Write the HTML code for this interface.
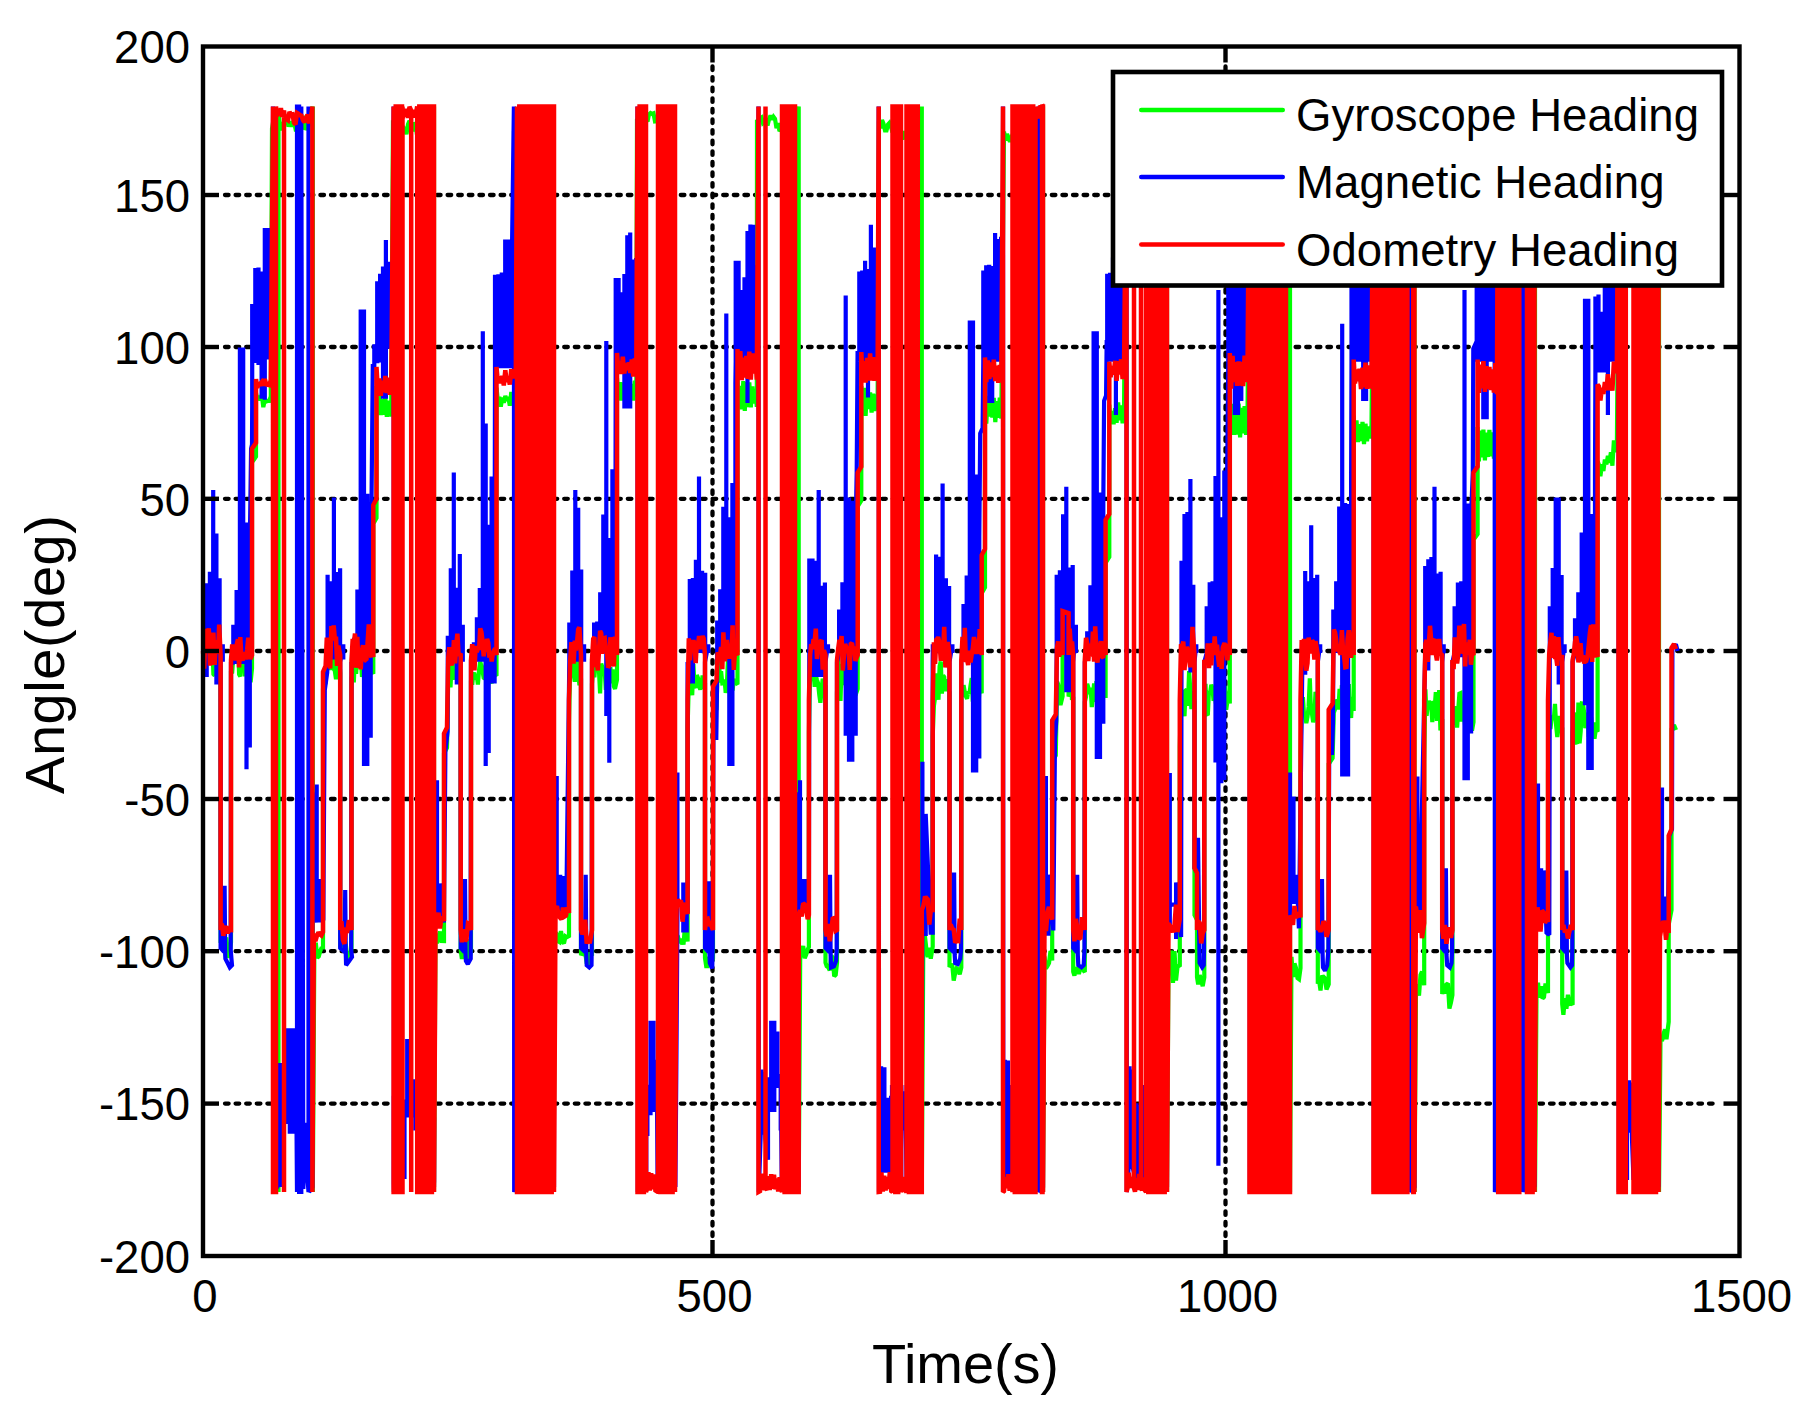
<!DOCTYPE html>
<html><head><meta charset="utf-8"><title>Heading comparison</title>
<style>
html,body{margin:0;padding:0;background:#fff;}
body{width:1817px;height:1414px;overflow:hidden;}
svg{display:block;}
text{font-family:"Liberation Sans",Arial,Helvetica,sans-serif;fill:#000;}
.tick{font-size:45.5px;}
.lab{font-size:56px;}
.leg{font-size:45.5px;}
.s{fill:none;stroke-linejoin:miter;stroke-miterlimit:2;stroke-linecap:butt;}
</style></head><body>
<svg width="1817" height="1414" viewBox="0 0 1817 1414">
<rect x="0" y="0" width="1817" height="1414" fill="#fff"/>

<g stroke="#000" stroke-width="4.3" stroke-linecap="round" stroke-dasharray="3.6 7" fill="none">
<line x1="225" y1="195" x2="1719.5" y2="195"/>
<line x1="225" y1="347" x2="1719.5" y2="347"/>
<line x1="225" y1="498.8" x2="1719.5" y2="498.8"/>
<line x1="225" y1="651" x2="1719.5" y2="651"/>
<line x1="225" y1="799" x2="1719.5" y2="799"/>
<line x1="225" y1="951.2" x2="1719.5" y2="951.2"/>
<line x1="225" y1="1103.6" x2="1719.5" y2="1103.6"/>
<line x1="712.5" y1="66.5" x2="712.5" y2="1236"/>
<line x1="1225.5" y1="66.5" x2="1225.5" y2="1236"/>
</g>
<path class="s" stroke="#00ff00" stroke-width="4.2" d="M203 661.5 204.2 659.2 205.3 672.5 206.5 661 207.7 652 208.8 664.5 210 649.6 211.1 649.6 212.3 644.9 213.4 674.2 214.6 675.4 215.7 637.2 216.9 640.1 218 659.8 219.2 662.1 220.6 666.7 220.6 941.7 221.8 942.7 223.3 947.1 224.8 941.8 226.3 937.3 227.8 956.1 229.3 956.1 231 942.4 231 672.4 232.2 672 233.3 657.3 234.5 644.2 235.7 659.9 236.8 659.6 238 638.9 239.1 674.4 240.3 676.4 241.4 651.1 242.6 670.9 243.7 651.6 244.9 676.3 246 652.6 247.2 645.4 248.3 654.5 249.5 662.1 250.6 682.2 252 668.7 252 462.4 256 456.7 256 393 257.3 399.1 258.8 396 260.3 400.2 261.8 394.8 263.3 407.2 264.8 399.8 266.3 401.4 267.8 400.8 269.3 400.8 270.8 396.5 272 128.6 273.3 120.9 274.6 126.3 275.9 122 277.2 126.6 278.5 110.5 278.5 1192 278.5 110.5 279.5 122.9 281 130.4 282.5 123.6 284 122.9 285.5 119.3 287 119.4 288.5 126.6 290 121.3 291.5 126.5 293 122.9 294.5 123.9 296 131.3 297.5 124 299 125.1 300.5 129.3 302 118.9 303.5 118.3 305 129.4 306.5 127.8 308 119.1 309.5 118 311 126.1 312.8 106.5 312.8 1192 314.3 957.4 315.8 942.6 317.3 957.7 318.8 956.4 320.3 950.9 321.8 947.3 323 948.9 323 688.9 325.6 683 326.8 650.7 327.9 659.8 329.1 660.4 330.2 669.9 331.4 658.2 332.5 655.2 333.7 669 334.8 670.6 336 679.1 337.1 653.9 338.3 643.3 340.2 672.6 340.2 947.6 341.4 945.2 342.9 950.6 344.4 939.2 345.9 945.2 347.4 959 348.9 961.4 351.5 948 351.5 678 352.7 672.4 353.8 682.3 355 654.6 356.1 673.8 357.3 654.8 358.4 667.8 359.6 663.2 360.7 656.4 361.9 675 363 675.1 364.2 676.7 365.3 664.4 366.5 679.8 367.6 666.3 368.8 678.8 369.9 672.2 371.1 671 373.3 673.8 373.3 523.8 376.5 517.9 376.5 385.9 377.8 404.7 379.3 394.8 380.8 415 382.3 399.1 383.8 414.7 385.3 396.7 386.8 416.9 388.3 400.6 389.8 416.4 391.3 405 393 120.3 394.5 130.4 396 119.7 397.5 128.5 399 126.8 400.5 123.2 402 130.4 403.5 127.5 405 129.4 406.5 134.2 408 124.3 409.5 120.8 411 125.3 412.5 131.1 414 124.1 415.5 123.8 417 135 418.5 131.4 420 128.3 421.5 135.2 423 126.9 424.5 132.1 426 125.3 427.5 128.9 429 134.7 430.5 136.5 432 136.1 434 106.5 434 1192 435.5 938 437 943.2 438.5 936.3 440 931.6 441.5 941 444 941.1 444 753.6 447 747.7 448.2 679.6 449.3 676.1 450.5 687.4 451.6 664 452.8 667.9 453.9 670.1 455.1 679.8 456.2 644.6 457.4 651.4 458.5 672.3 460.7 675.4 460.7 950.4 461.9 959 463.4 938.9 464.9 941.9 466.4 950.3 467.9 939.1 469.4 960 471 950.5 471 680.5 472.2 684.8 473.3 674.1 474.5 674.2 475.6 679.2 476.8 675.7 477.9 684.6 479.1 669.8 480.2 661.6 481.4 666.3 482.5 671.2 483.7 677.8 484.8 678.8 486 659.1 487.1 687.9 488.3 674.2 489.4 667.3 490.6 681.4 491.7 683.2 492.9 675 494 677 495.2 674.8 496.5 675.8 496.5 387.8 497.8 399.7 499.3 396.9 500.8 406.7 502.3 397.7 503.8 402.7 505.3 396 506.8 400.8 508.3 397.1 509.8 405.7 511.3 392.1 512.8 398.8 514.3 393.1 515.8 403.1 514 131.5 515.5 127.4 517 120.5 518.5 132.3 520 121.1 521.5 132.2 523 122.8 524.5 125.3 526 132.1 527.5 122.5 529 122.6 530.5 128.2 532 131.3 533.5 133.1 535 130.9 536.5 134.8 538 128 539.5 134.9 541 122 542.5 124.1 544 128.7 545.5 125.2 547 131.8 548.5 130.5 550 128.8 551.5 133.6 553 129.4 553.5 106.5 553.5 1192 555 932.5 556.5 933.7 558 941.2 559.5 942.1 561 931.1 562.5 941.4 564 943.4 565.5 936.3 567 937.2 569 936.1 569 723.1 570.2 664.7 571.4 673.2 572.5 660 573.6 673.7 574.8 681.7 575.9 673.1 577.1 661.2 578.2 671 579.4 685.3 581 678.5 581 953.5 582.2 953.8 583.7 944.9 585.2 952.9 586.7 962.9 588.2 965.2 589.7 954.2 592 953.9 592 683.9 593.2 668.8 594.4 677.3 595.5 663.7 596.6 660.7 597.8 666.5 598.9 669.2 600.1 693.3 601.2 663.7 602.4 667.3 603.5 675.2 604.7 670.9 605.8 689.8 607 678.1 608.1 675.3 609.3 677.7 610.4 667.1 611.6 683.3 612.7 669.5 613.9 686.5 615 688.7 617 679.8 617 377.8 618.3 395.1 619.8 382.1 621.3 400.5 622.8 382.4 624.3 394.9 625.8 387.6 627.3 398 628.8 387.3 630.3 395.4 631.8 384 633.3 400.6 634.8 380.6 636.3 396.3 637 118.7 638.5 122.6 640 123.8 641.5 111.4 643 117.6 644.5 121.8 646 118.4 647.5 121.5 649 114.4 650.5 113 652 113.9 653.5 113.3 655 121.4 656.5 121.2 658 122.4 659.5 116.5 661 117.4 662.5 118.1 664 128 665.5 130.7 667 130.1 668.5 118 670 117.9 671.5 131.6 673 124.7 674.5 106.5 674.5 1192 676 949.5 677.5 935.5 679 940.1 680.5 941.7 682 939 683.5 944.5 685 925.8 687.6 941.5 687.6 727.5 688.8 683.1 690 668.6 691.1 684.3 692.2 695.2 693.4 664.1 694.5 686.2 695.7 687.9 696.8 675.1 698 678 699.1 686.4 700.3 689.4 701.4 685.8 702.6 675.4 703.7 688.7 705 683.1 705 958.1 706.2 966.1 707.7 966.1 709.2 956.8 710.7 965.1 713 958.4 713 715.1 716.5 709.2 717.7 666.6 718.9 656.2 720 682.6 721.1 671.2 722.3 683.4 723.4 683.3 724.6 679.8 725.7 692.9 726.9 684.6 728 659.1 729.2 685.7 730.3 655 731.5 655.6 732.6 690.5 733.8 679.4 734.9 681.1 736.1 683.1 737.5 684.3 737.5 378.3 738.8 403.1 740.3 385.8 741.8 409.3 743.3 381 744.8 411 746.3 382.1 747.8 407 749.3 382.3 750.8 407.3 752.3 386.4 753.8 403.5 755.3 389.5 756.8 406.9 757 119.9 758.5 121.3 760 118.2 761.5 117.4 763 123.3 764.5 122.3 766 118.5 767.5 125.4 769 119.4 770.5 115.6 772 119.4 773.5 116.8 775 118.8 776.5 128.2 778 123.1 779.5 131.1 781 129.2 782.5 119.1 784 133.6 785.5 133.3 787 120.6 788.5 133.5 790 126.7 791.5 127.8 793 135.6 794.5 125 796 129.6 798.7 106.5 798.7 1192 800.2 957.2 801.7 952.1 803.2 946 804.7 958.3 806.2 954.5 807.7 949.4 808.9 947 808.9 732 810.1 671.3 811.2 680.9 812.4 669.6 813.5 671.7 814.7 686.9 815.8 675.6 817 680.1 818.1 683.2 819.3 695.1 820.4 702.7 821.6 690.4 822.7 678.6 823.9 687.7 825.5 687.6 825.5 962.6 826.7 966.1 828.2 967.2 829.7 970.4 831.2 955.8 832.7 957.4 834.2 976.4 835.7 974.8 837 963 837 693 838.2 657.7 839.4 676.7 840.5 701 841.6 664 842.8 684.7 843.9 679.8 845.1 675.2 846.2 690.2 847.4 703.1 848.5 686.9 849.7 675.5 850.8 676.8 852 679.9 853.1 697.3 854.3 685.1 855.4 695.5 857.7 688.8 857.7 506.4 861.3 500.6 861.3 386 862.6 411.3 864.1 387.9 865.6 416 867.1 387.9 868.6 409 870.1 392.4 871.6 412.7 873.1 393.6 874.6 411.1 876.1 394.5 877.6 409.2 879 121.2 880.5 128.3 882 120 883.5 123.7 885 130.4 886.5 130.4 888 124.6 889.5 122.9 891 126.5 892.5 132.4 894 127.4 895.5 124.1 897 133.4 898.5 131.6 900 137.3 901.5 138 903 138 904.5 131.2 906 137.1 907.5 130 909 130.6 910.5 132.2 912 140.7 913.5 140.5 915 131.2 916.5 133.2 918 133.7 919.5 134.1 921 134.9 921.8 106.5 921.8 1192 923.3 942.2 924.8 935.3 926.3 948.6 927.8 957.1 929.3 947.9 930.8 958.6 932.7 946.5 932.7 736.5 933.9 705.9 935.1 697.3 936.2 673.3 937.4 687.9 938.5 699.8 939.6 666.3 940.8 661.6 941.9 693.5 943.1 675.3 944.2 677 945.4 691.2 946.5 679.2 947.7 687.7 949.5 692.1 949.5 967.1 950.7 965.4 952.2 964 953.7 980.5 955.2 972.8 956.7 968.2 958.2 969.4 959.7 974.3 961.3 967.6 961.3 697.6 962.5 693.4 963.6 685.2 964.8 692.4 965.9 696.3 967.1 698.7 968.2 691.7 969.4 693.7 970.5 685.7 971.7 678 972.8 701.7 974 678.7 975.1 686 976.3 665.2 977.4 677.4 978.6 702.6 979.7 687.1 981.7 693.3 981.7 593.3 985 587.4 985 395.8 986.3 423.7 987.8 395.9 989.3 416.6 990.8 397.3 992.3 417.6 993.8 397.9 995.3 422.2 996.8 401.2 998.3 417.9 999.8 397.6 1001.3 418.5 1004 131.6 1005.5 140.5 1007 134 1008.5 137.7 1010 141.9 1011.5 137 1013 133.9 1014.5 143.4 1016 144 1017.5 135.6 1019 138.8 1020.5 145.1 1022 138.1 1023.5 134.4 1025 132 1026.5 145.6 1028 143.5 1029.5 137.5 1031 139.8 1032.5 139.7 1034 136.3 1035.5 147.2 1037 142.3 1038.5 136.2 1040 133 1041.5 140 1043 106.5 1043 1192 1044.5 956.6 1046 968.2 1047.5 966 1049 963.1 1050.5 951.1 1052.2 960.4 1052.2 761.3 1055.8 755.4 1057 681.5 1058.2 684.4 1059.3 691.6 1060.5 705 1062.6 696.3 1062.6 652.3 1068.6 654.5 1068.6 696.5 1069.7 693.3 1070.8 677.9 1072 700 1073.2 696.7 1073.2 971.7 1074.4 975.7 1075.9 967.3 1077.4 969.6 1078.9 973.9 1080.4 967.7 1081.9 968.8 1083.4 970.3 1084.8 972.1 1084.8 702.1 1086 696.8 1087.2 683.8 1088.3 687.5 1089.5 694 1090.6 687.6 1091.8 707 1092.9 697.4 1094.1 683.5 1095.2 701.9 1096.4 681.1 1097.5 709.4 1098.7 680.7 1099.8 690.6 1101 696.8 1102.1 701.8 1103.3 688.1 1104.4 679.3 1105.6 697.9 1105.6 562.9 1109.3 557 1109.3 404.7 1110.6 423.4 1112.1 411 1113.6 424.3 1115.1 408.2 1116.6 422.8 1118.1 402.5 1119.6 420.4 1121.1 405.5 1122.6 423.4 1124.1 403.6 1126 137.7 1127.5 139.8 1129 144.1 1130.5 144.8 1132 141.8 1133.5 135.1 1135 144.4 1136.5 146.6 1138 141.4 1139.5 138.6 1141 141 1142.5 135.8 1144 144.5 1145.5 148.8 1147 141.8 1148.5 145 1150 146.9 1151.5 137.5 1153 148.9 1154.5 144.3 1156 138 1157.5 136.4 1159 139 1160.5 144.1 1162 146.1 1163.5 140.7 1165 149.8 1167 106.5 1167 1192 1168.5 959.4 1170 963.4 1171.5 950.6 1173 982.9 1174.5 951.2 1176 980.4 1177.5 966.8 1179.8 965.3 1179.8 746.3 1181 698 1182.2 689.8 1183.3 710.2 1184.5 716.2 1185.6 690.6 1186.8 689.3 1187.9 705.9 1189.1 671 1190.2 687.8 1191.4 709.1 1192.5 691.5 1194.5 702 1194.5 915 1197 920.1 1197 977.1 1198.2 984.3 1199.7 975.1 1201.2 980.7 1202.7 986.2 1204.3 977.4 1204.3 707.4 1205.5 683.9 1206.7 714.2 1207.8 715.2 1209 691 1210.1 693 1211.3 684.8 1212.4 687.9 1213.6 700.7 1214.7 695.4 1215.9 703.3 1217 705.1 1218.2 711.9 1219.3 708.1 1220.5 696.3 1221.6 709.6 1222.8 699 1223.9 709.7 1225.1 685.9 1226.2 709.7 1227.4 701.2 1228.5 693.1 1229.8 703.6 1229.8 401.6 1231.1 431.3 1232.6 403.9 1234.1 434.9 1235.6 407.4 1237.1 434.6 1238.6 403.5 1240.1 437.4 1241.6 407.9 1243.1 433.4 1244.6 406.1 1246.1 435 1247.6 405.6 1250 136 1251.5 148.9 1253 150 1254.5 145.7 1256 148.9 1257.5 142.5 1259 148.5 1260.5 139.9 1262 148 1263.5 145.6 1265 150.9 1266.5 139 1268 149.7 1269.5 139.9 1271 146.3 1272.5 152.7 1274 138.7 1275.5 142.6 1277 143.6 1278.5 144.3 1280 140.6 1281.5 153.3 1283 152.3 1284.5 146.3 1286 145.9 1287.5 149.6 1289 141.7 1290 106.5 1290 1192 1291.5 956.8 1293 976.9 1294.5 963.4 1296 967.9 1297.5 978 1299 979.1 1300.5 968.2 1300.5 752.7 1301.7 702 1302.9 697.1 1304 714 1305.2 712.4 1306.3 723.2 1307.5 717 1308.6 706.9 1309.8 678.3 1310.9 709.6 1312.1 714.6 1313.2 722.3 1314.4 715.8 1315.5 691.8 1317.8 708.7 1317.8 983.7 1319 979.8 1320.5 990.4 1322 977.1 1323.5 976.8 1325 978.3 1326.5 989.5 1328.7 984.4 1328.7 764 1332.6 758.2 1333.8 712.8 1335 709.3 1336.1 707.3 1337.3 699.3 1338.4 709.6 1339.6 688.9 1340.7 703.4 1341.9 685.2 1343 699.2 1344.2 682.2 1345.3 712.5 1346.5 699.3 1347.6 696.7 1348.8 684.2 1349.9 712.7 1351.1 717.8 1352.2 696.8 1353.7 710.9 1353.7 415.5 1355 441.8 1356.5 420.3 1358 442.1 1359.5 424.3 1361 441 1362.5 422 1364 444.1 1365.5 423.8 1367 441.4 1368.5 426.4 1370 438.4 1371.5 425 1374 142.5 1375.5 149.3 1377 144 1378.5 147.3 1380 152.5 1381.5 152.9 1383 153.2 1384.5 145.1 1386 149.1 1387.5 145.3 1389 151 1390.5 150 1392 143.2 1393.5 151.9 1395 153.9 1396.5 152 1398 156.7 1399.5 146.5 1401 146.3 1402.5 144.5 1404 151.9 1405.5 151.2 1407 151.6 1408.5 149.1 1410 157.4 1411.5 146.7 1413 159.5 1414.5 106.5 1414.5 1192 1416 987 1417.5 986.2 1419 995.7 1420.5 974.9 1422 971.5 1424.2 985.2 1424.2 762.2 1425.4 689.4 1426.6 715.8 1427.7 705.9 1428.9 701.1 1430 703.6 1431.2 703.3 1432.3 722.2 1433.5 700.8 1434.6 709.4 1435.8 692.2 1436.9 720.8 1438.1 703.6 1439.2 690.1 1440.4 730.5 1442.2 719 1442.2 994 1443.4 989.8 1444.9 993.3 1446.4 984.4 1447.9 983.4 1449.4 1008.6 1450.9 1002.7 1452.4 995 1452.4 725 1453.6 721.6 1454.8 708.3 1455.9 708.1 1457.1 727.5 1458.2 711 1459.4 693.7 1460.5 693.2 1461.7 721.3 1462.8 718.5 1464 715.1 1465.1 725.8 1466.3 724.2 1467.4 712.2 1468.6 732 1469.7 708.7 1470.9 711.4 1472 730.7 1473.5 722.1 1473.5 539.7 1477.6 534.1 1477.6 427.1 1478.9 461.4 1480.4 430.6 1481.9 457.3 1483.4 429.7 1484.9 460.4 1486.4 432.6 1487.9 457 1489.4 429.8 1490.9 456.4 1492.4 432.3 1493.9 458.6 1495.4 438.5 1496.9 461.7 1497 154 1498.5 155.7 1500 153 1501.5 165 1503 156.7 1504.5 163.1 1506 162.8 1507.5 165.9 1509 152.9 1510.5 157.8 1512 159 1513.5 154.8 1515 167.1 1516.5 159.1 1518 166.1 1519.5 162.7 1521 156 1522.5 161.4 1524 159.4 1525.5 156.8 1527 158.7 1528.5 165.7 1530 157.6 1531.5 162.1 1533 164.1 1535 106.5 1535 1192 1536.5 993.3 1538 982.8 1539.5 997.7 1541 986.3 1542.5 998.5 1544 997 1545.5 983.6 1548 993 1548 773 1549.2 714.8 1550.4 729.1 1551.5 720.1 1552.7 715.7 1553.8 719.1 1555 703.8 1556.1 725.4 1557.3 737 1558.4 728.5 1559.6 715.9 1560.7 728.6 1562.2 729 1562.2 1004 1563.4 1014.7 1564.9 998.3 1566.4 1008.8 1567.9 994.8 1569.4 1003.7 1570.9 1002.9 1572.6 1004.8 1572.6 734.8 1573.8 712.5 1575 720.1 1576.1 741.8 1577.3 743.8 1578.4 702.6 1579.6 743.4 1580.7 731 1581.9 703.4 1583 703.6 1584.2 713.1 1585.3 728.1 1586.5 720.9 1587.6 712.5 1588.8 736.9 1589.9 719.4 1591.1 717.3 1592.2 729.4 1593.4 722.4 1594.5 738.8 1595.7 730 1597.6 731.6 1597.6 461.2 1598.9 464.7 1600.4 476.3 1601.9 464.3 1603.4 471 1604.9 459.5 1606.4 464.5 1607.9 455.9 1609.4 462.7 1610.9 452.2 1612.4 465.7 1613.9 440.3 1615.4 452 1616.9 443.9 1619 162.2 1620.5 163.3 1622 164.3 1623.5 171.5 1625 165.2 1626.5 162.1 1628 170.7 1629.5 168.9 1631 167 1632.5 171.2 1634 174 1635.5 172.9 1637 174.4 1638.5 173.9 1640 178.4 1641.5 180.9 1643 171.8 1644.5 172.4 1646 180.9 1647.5 172.7 1649 179.2 1650.5 179.3 1652 179.6 1653.5 184.2 1655 182.5 1656.5 173 1658 180.3 1659 106.5 1659 1192 1660.5 1038.1 1662 1041.2 1663.5 1033.9 1665 1029.4 1666.5 1039.2 1668.7 1021.8 1668.7 924.5 1671.5 910 1671.5 729 1674 725 1676 730"/>
<path class="s" stroke="#0000ff" stroke-width="4.2" d="M203.5 661.7 203.5 618.3 203.5 640 206.7 640 206.7 677 206.7 583.3 206.7 622.5 209.9 622.5 209.9 661.7 209.9 571.8 209.9 616.7 213.2 616.7 213.2 661.7 213.2 490 213.2 597.7 216.4 597.7 216.4 684.6 216.4 533.6 216.4 620 219.6 620 219.6 661.7 219.6 578.3 219.6 653 222.8 653 222.8 661.7 222.8 644.3 220.6 662 220.6 948 224 952 224.6 885.7 225.2 955 225.4 958.7 227.6 963 229.8 967.4 232 965.2 230.7 950 231 662 233.3 663.9 233.3 624.8 233.3 644.3 236.6 644.3 236.6 663.9 236.6 590 236.6 627 239.9 627 239.9 663.9 239.9 347.6 239.9 505.8 243.2 505.8 243.2 663.9 243.2 347.6 243.2 593.2 246.5 593.2 246.5 769.3 246.5 522.6 246.5 645.4 249.8 645.4 249.8 747.6 249.8 543.3 251.1 448.7 252 444.3 252.2 405.2 252.2 304.1 252.2 333.6 255.3 333.6 255.3 363 255.3 267.9 255.3 315.5 258.5 315.5 258.5 365 258.5 267.4 258.5 318.2 261.6 318.2 261.6 398.8 261.6 271.4 261.6 335.1 264.8 335.1 264.8 399.7 264.8 228 264.8 293.8 267.9 293.8 267.9 359.6 267.9 228 267.9 315 271.1 315 271.1 359.6 271.1 270.4 273 270.4 273 106.5 273.3 1192 277.2 1187 277.2 1063 277.2 1125 280.3 1125 280.3 1187 280.3 1063 280.3 1121.7 283.5 1121.7 283.5 1123.9 283.5 1119.6 283.5 1121.7 286.6 1121.7 286.6 1123.9 286.6 1028.3 286.6 1076.1 289.8 1076.1 289.8 1133.7 289.8 1028.3 289.8 1081 292.9 1081 292.9 1133.7 292.9 1028.3 292.9 1101.6 296.1 1101.6 296.1 1133.7 296.1 1069.6 297 1192 297 106.5 299.1 106.5 299.1 1192 301.3 1192 301.3 106.5 303.3 1189 304.3 1165.2 305.4 1122.8 306.3 1160.9 308.5 1192 308.5 106.5 309.1 1192 312.4 1187 312.4 792.2 316.7 922.6 316.7 784.6 316.7 900.9 319.3 900.9 319.3 922.6 319.3 879.1 323.3 920.4 324.8 690 327.2 672.6 327.6 659.6 327.6 574.8 327.6 620.4 330.7 620.4 330.7 659.6 330.7 581.3 330.7 620.4 333.9 620.4 333.9 659.6 333.9 497.6 333.9 615.8 337 615.8 337 659.6 337 572 337 615.8 340.1 615.8 340.1 659.6 340.1 568.3 340.1 652 343.3 652 343.3 659.6 343.3 644.3 340.2 662 340.2 948 344.6 952 345.2 890 345.8 955 346.1 965.2 349.3 960.9 352 957 351.2 950 351.5 662 354.1 666.1 354.1 637.8 354.1 652 357.4 652 357.4 666.1 357.4 589.6 357.4 627.9 360.7 627.9 360.7 666.1 360.7 309.6 360.7 487.8 364 487.8 364 766.1 364 309.6 364 629.9 367.3 629.9 367.3 766.1 367.3 493.7 367.3 643.8 370.7 643.8 370.7 737.8 370.7 549.8 371.5 505.2 372.8 366.1 374.3 366.1 374.3 344.3 374.3 353.8 377.2 353.8 377.2 363.2 377.2 281.3 377.2 321.9 380.1 321.9 380.1 362.6 380.1 273.7 380.1 318.2 383 318.2 383 398.7 383 266.4 383 332.6 385.9 332.6 385.9 398.7 385.9 240 385.9 305.2 388.8 305.2 388.8 348.7 388.8 261.7 388.8 306.3 391.7 306.3 391.7 348.7 391.7 263.9 393.6 263.9 393.6 106.5 393.9 1192 393.7 1182.6 393.7 1095.7 393.7 1139.3 396.4 1139.3 396.4 1181.7 396.4 1096.9 396.4 1139.5 399.1 1139.5 399.1 1180.7 399.1 1098.2 399.1 1139.6 401.8 1139.6 401.8 1179.8 401.8 1099.4 401.8 1139.2 404.5 1139.2 404.5 1178.9 404.5 1099.5 404.5 1108.5 407.2 1108.5 407.2 1117.4 407.2 1039.1 407.2 1098.4 409.9 1098.4 409.9 1117.4 409.9 1079.3 409.9 1098.4 412.6 1098.4 412.6 1117.4 412.6 1079.3 412.6 1098.4 415.3 1098.4 415.3 1130.4 415.3 1079.3 415.3 1123.9 418 1123.9 418 1182.6 418 1117.4 418 1150 420.7 1150 420.7 1182.6 420.7 1117.4 420.7 1150 423.3 1150 423.3 1182.6 423.3 1117.4 423.3 1150 426 1150 426 1182.6 426 1117.4 426 1150 428.7 1150 428.7 1182.6 428.7 1117.4 428.7 1150 431.4 1150 431.4 1182.6 431.4 1117.4 431.4 1150 434.1 1150 434.1 1182.6 434.1 1117.4 434 1187 434 792.2 437 920.4 437 780.2 437 902 440 902 440 920.4 440 883.5 443.9 922.6 445.4 750.9 447.6 731.3 447.8 661.7 447.8 635.7 447.8 648.7 450.8 648.7 450.8 661.7 450.8 568.3 450.8 615 453.8 615 453.8 661.7 453.8 472.6 453.8 624.8 456.8 624.8 456.8 684.6 456.8 587.8 456.8 624.8 459.8 624.8 459.8 661.7 459.8 554.1 459.8 643.3 462.8 643.3 462.8 661.7 462.8 624.8 460.7 662 460.7 948 464.4 952 465 879.1 465.6 955 465.9 960.9 467.8 964.1 470.7 958.7 470.7 950 471 662 473.9 661.7 473.9 642.2 473.9 652 476.9 652 476.9 661.7 476.9 617.2 476.9 639.5 479.8 639.5 479.8 661.7 479.8 588 479.8 624.9 482.8 624.9 482.8 661.7 482.8 331.3 482.8 542.5 485.7 542.5 485.7 766.1 485.7 423.4 485.7 638.9 488.7 638.9 488.7 753 488.7 524.8 488.7 604.1 491.6 604.1 491.6 683.5 491.6 476.5 491.6 634.6 494.6 634.6 494.6 683.5 494.6 585.7 495 368.3 495 274.8 495 321.5 498.4 321.5 498.4 368.3 498.4 274.3 498.4 321.3 501.8 321.3 501.8 368.3 501.8 272.4 501.8 320.3 505.2 320.3 505.2 368.3 505.2 239.6 505.2 303.9 508.6 303.9 508.6 368.3 508.6 239.6 508.6 309 512 309 512 368.3 512 249.8 513.9 106.5 514.2 1192 516.7 1180 516.7 1085 516.7 1132.5 520.6 1132.5 520.6 1180 520.6 1085 520.6 1132.5 524.5 1132.5 524.5 1180 524.5 1085 524.5 1132.5 528.3 1132.5 528.3 1180 528.3 1085 528.3 1132.5 532.2 1132.5 532.2 1180 532.2 1085 532.2 1132.5 536.1 1132.5 536.1 1180 536.1 1085 536.1 1132.5 539.9 1132.5 539.9 1180 539.9 1085 539.9 1132.5 543.8 1132.5 543.8 1180 543.8 1085 543.8 1132.5 547.7 1132.5 547.7 1180 547.7 1085 547.7 1132.5 551.5 1132.5 551.5 1180 551.5 1085 554 1187 554 792.2 556.7 911.7 556.7 775.9 556.7 893.3 560.2 893.3 560.2 911.7 560.2 874.8 560.2 893.8 563.5 893.8 563.5 911.7 563.5 875.9 563.5 893.8 566.7 893.8 566.7 911.7 566.7 874.8 569.3 661.7 569.3 622.6 569.3 642.2 572.3 642.2 572.3 661.7 572.3 570.4 572.3 616.1 575.3 616.1 575.3 661.7 575.3 490 575.3 584.7 578.2 584.7 578.2 661.7 578.2 507.7 578.2 615.7 581.2 615.7 581.2 661.7 581.2 569.6 581.2 653 584.1 653 584.1 661.7 584.1 644.3 581 662 581 948 585.1 952 585.7 874.8 586.3 955 586.7 965.2 589.3 967.4 591.5 965.2 591.7 950 592 662 594.1 653 594.1 622.6 594.1 637.8 597.2 637.8 597.2 653 597.2 621.5 597.2 637.3 600.2 637.3 600.2 653 600.2 592.2 600.2 622.6 603.3 622.6 603.3 653 603.3 514.5 603.3 583.8 606.3 583.8 606.3 716.1 606.3 341.1 606.3 627.1 609.3 627.1 609.3 762.8 609.3 538.1 609.3 595.6 612.4 595.6 612.4 653 612.4 469.3 612.4 628 615.4 628 615.4 653 615.4 603 615.7 361.7 615.7 278 615.7 319.9 618.6 319.9 618.6 361.7 618.6 278 618.6 327 621.5 327 621.5 361.7 621.5 292.2 621.5 327 624.4 327 624.4 408.5 624.4 273.9 624.4 341.2 627.3 341.2 627.3 408.5 627.3 235.3 627.3 321.9 630.2 321.9 630.2 408.5 630.2 232.4 630.2 310.7 633.2 310.7 633.2 361.7 633.2 259.6 633.2 310.9 636.1 310.9 636.1 361.7 636.1 260 637.5 260 637.5 106.5 637.8 1192 638 1180 638 1085 638 1132.5 640.8 1132.5 640.8 1180 640.8 1085 640.8 1132.5 643.6 1132.5 643.6 1180 643.6 1085 643.6 1132.5 646.3 1132.5 646.3 1180 646.3 1085 647.4 1135.9 647.4 1084.8 647.4 1100 650.5 1100 650.5 1115.2 650.5 1020.7 650.5 1066.3 653.6 1066.3 653.6 1111.9 653.6 1020.7 653.6 1082.1 656.7 1082.1 656.7 1104.3 656.7 1059.8 657.6 1180 657.6 1085 657.6 1132.5 661 1132.5 661 1180 661 1085 661 1132.5 664.4 1132.5 664.4 1180 664.4 1085 664.4 1132.5 667.8 1132.5 667.8 1180 667.8 1085 667.8 1132.5 671.2 1132.5 671.2 1180 671.2 1085 671.2 1132.5 674.6 1132.5 674.6 1180 674.6 1085 675.4 1187 676.5 1047.8 677.4 922.6 677.4 772.6 677.4 902.5 683.3 902.5 683.3 932.6 683.3 882.4 683.3 916.3 686.7 916.3 686.7 932.6 686.7 900 687.6 913 687.6 662 689.8 683.5 689.8 579.1 689.8 631.3 692.9 631.3 692.9 683.5 692.9 578.1 692.9 615.6 695.9 615.6 695.9 653 695.9 559.7 695.9 606.4 699 606.4 699 653 699 476.5 699 611.9 702.1 611.9 702.1 653 702.1 570.8 702.1 612.9 705.2 612.9 705.2 653 705.2 572.8 705.2 648.7 708.3 648.7 708.3 653 708.3 644.3 705 662 705 948 708.3 952 708.9 881.3 709.5 955 709.8 963 712.2 968.5 712.7 950 713.4 737.8 716.3 737.8 717 686.7 717.2 653 717.2 620.4 717.2 636.7 720.2 636.7 720.2 653 720.2 589.2 720.2 621.1 723.3 621.1 723.3 653 723.3 506.7 723.3 579.9 726.3 579.9 726.3 653 726.3 313.5 726.3 585.1 729.3 585.1 729.3 766.1 729.3 517.2 729.3 641.6 732.4 641.6 732.4 766.1 732.4 483 732.4 568 735.4 568 735.4 653 735.4 383.5 735.7 361.7 735.7 260.7 735.7 311.2 738.6 311.2 738.6 361.7 738.6 260.7 738.6 325.9 741.6 325.9 741.6 361.7 741.6 290 741.6 325.9 744.5 325.9 744.5 361.7 744.5 277.3 744.5 319.5 747.5 319.5 747.5 403 747.5 231.1 747.5 296.4 750.4 296.4 750.4 361.7 750.4 224.4 750.4 293.3 753.4 293.3 753.4 361.7 753.4 224.8 753.4 314.5 756.3 314.5 756.3 361.7 756.3 267.2 758.5 267.2 758.5 106.5 758.8 1192 760.7 1134.8 761.5 1069.6 762.4 1134.8 763.3 1071.7 765.4 1139.1 768 1159.8 768 1077.2 768 1094.6 771.2 1094.6 771.2 1112 771.2 1020.7 771.2 1066.3 774.3 1066.3 774.3 1112 774.3 1020.7 774.3 1059.8 777.5 1059.8 777.5 1088 777.5 1031.6 777.5 1081 780.7 1081 780.7 1130.4 780.7 1073.9 781.7 1180 781.7 1085 781.7 1132.5 785.3 1132.5 785.3 1180 785.3 1085 785.3 1132.5 788.8 1132.5 788.8 1180 788.8 1085 788.8 1132.5 792.3 1132.5 792.3 1180 792.3 1085 792.3 1132.5 795.9 1132.5 795.9 1180 795.9 1085 798.7 1187 798.7 792.2 800 905.2 800 780.2 800 892.2 803 892.2 803 905.2 803 879.1 803 892.2 805.4 892.2 805.4 905.2 805.4 879.1 808.9 907.4 809.3 653 809.3 558.5 809.3 605.8 812.5 605.8 812.5 677 812.5 558.6 812.5 618.9 815.6 618.9 815.6 677 815.6 560.8 815.6 618.9 818.7 618.9 818.7 677 818.7 490 818.7 631.3 821.8 631.3 821.8 677 821.8 585.7 821.8 619.3 824.9 619.3 824.9 653 824.9 582.4 824.9 648.7 828 648.7 828 653 828 644.3 825.5 662 825.5 948 829.4 952 830 874.8 830.6 955 831.1 967.4 833.9 966.3 836.1 960.9 836.7 950 837 662 839.1 653 839.1 609.6 839.1 631.3 842.4 631.3 842.4 653 842.4 582.2 842.4 617.6 845.7 617.6 845.7 735.7 845.7 295.4 845.7 616.6 849 616.6 849 761.7 849 497.6 849 631.3 852.3 631.3 852.3 761.7 852.3 500.8 852.3 630.2 855.7 630.2 855.7 735.7 855.7 524.8 856.7 472.6 857.6 350.9 859.3 361.7 859.3 271.5 859.3 316.6 862.2 316.6 862.2 361.7 862.2 270.4 862.2 316.1 865.1 316.1 865.1 361.7 865.1 260.7 865.1 315.4 868 315.4 868 397.6 868 269.1 868 315.4 870.9 315.4 870.9 361.7 870.9 224.8 870.9 304.7 873.8 304.7 873.8 361.7 873.8 247.6 873.8 305.8 876.7 305.8 876.7 361.7 876.7 249.8 878.7 249.8 878.7 106.5 879 1192 881.1 1172.8 881.1 1066.3 881.1 1120 884.4 1120 884.4 1172.8 884.4 1067.2 884.4 1135.3 887.8 1135.3 887.8 1172.8 887.8 1097.7 887.8 1135.3 891.1 1135.3 891.1 1172.8 891.1 1095.7 892 1180 892 1085 892 1132.5 895.1 1132.5 895.1 1180 895.1 1085 895.1 1132.5 898.2 1132.5 898.2 1180 898.2 1085 898.2 1132.5 901.3 1132.5 901.3 1180 901.3 1085 902.4 1130.4 903.3 1091.3 904.1 1130.4 904.8 1092.4 905.9 1139.1 906.7 1180 906.7 1085 906.7 1132.5 909.9 1132.5 909.9 1180 909.9 1085 909.9 1132.5 913 1132.5 913 1180 913 1085 913 1132.5 916.2 1132.5 916.2 1180 916.2 1085 916.2 1132.5 919.3 1132.5 919.3 1180 919.3 1085 921.5 1182 922.4 900.9 922.4 761.7 922.4 857.4 925.7 857.4 925.7 935.9 925.7 813.9 930.7 932.6 932.7 932.6 932.7 662 932.8 653 932.8 644.3 932.8 648.7 936.1 648.7 936.1 653 936.1 554.4 936.1 604.9 939.3 604.9 939.3 653 939.3 556.7 939.3 604.9 942.6 604.9 942.6 653 942.6 483.5 942.6 615.7 945.9 615.7 945.9 653 945.9 578.3 945.9 619.4 949.1 619.4 949.1 653 949.1 585.9 949.1 648.7 952.4 648.7 952.4 653 952.4 644.3 949.5 662 949.5 948 953.5 952 954.1 872.6 954.7 955 955.2 963 957.8 964.1 960.2 958.7 961 950 961.3 662 963.5 653 963.5 604.1 963.5 628.6 966.7 628.6 966.7 653 966.7 575.6 966.7 614.3 969.8 614.3 969.8 653 969.8 320.4 969.8 486.7 973 486.7 973 772.6 973 320.4 973 623.6 976.2 623.6 976.2 772.6 976.2 474.5 976.2 647.6 979.3 647.6 979.3 758.5 979.3 536.7 980.2 433.5 982.6 428 983.3 361.7 983.3 270.4 983.3 316.1 986.2 316.1 986.2 361.7 986.2 265.2 986.2 313.5 989.2 313.5 989.2 403 989.2 264.7 989.2 334.5 992.2 334.5 992.2 403 992.2 266 992.2 313.9 995.1 313.9 995.1 361.7 995.1 232.9 995.1 300.3 998.1 300.3 998.1 361.7 998.1 238.9 998.1 300.3 1001.1 300.3 1001.1 361.7 1001.1 238.9 1003 238.9 1003 106.5 1003.3 1192 1005 1171.7 1005 1059.8 1005 1116.2 1007.9 1116.2 1007.9 1176.1 1007.9 1060.6 1007.9 1144 1010.9 1144 1010.9 1180.4 1010.9 1112 1012 1180 1012 1085 1012 1132.5 1015.9 1132.5 1015.9 1180 1015.9 1085 1015.9 1132.5 1019.9 1132.5 1019.9 1180 1019.9 1085 1019.9 1132.5 1023.9 1132.5 1023.9 1180 1023.9 1085 1023.9 1132.5 1027.9 1132.5 1027.9 1180 1027.9 1085 1027.9 1132.5 1031.9 1132.5 1031.9 1180 1031.9 1085 1031.9 1132.5 1035.9 1132.5 1035.9 1180 1035.9 1085 1038.5 1192 1038.5 106.5 1039.1 1192 1043 1187 1043 792.2 1045.9 935.7 1045.9 775.9 1045.9 905.2 1048.5 905.2 1048.5 935.7 1048.5 874.8 1053.3 930.4 1055 738.9 1056.3 720.4 1056.7 653 1056.7 574.8 1056.7 613.9 1059.9 613.9 1059.9 653 1059.9 570.2 1059.9 611.6 1063.1 611.6 1063.1 653 1063.1 514.3 1063.1 583.7 1066.3 583.7 1066.3 692.2 1066.3 486.7 1066.3 629.9 1069.5 629.9 1069.5 692.2 1069.5 567.6 1069.5 610.3 1072.7 610.3 1072.7 653 1072.7 565 1072.7 638.9 1075.9 638.9 1075.9 653 1075.9 624.8 1073.2 662 1073.2 948 1076.6 952 1077.2 874.8 1077.8 955 1078.3 965.2 1081.5 967.4 1083.7 965.2 1084.5 950 1084.8 662 1087.2 653 1087.2 631.3 1087.2 642.2 1090.4 642.2 1090.4 653 1090.4 585.3 1090.4 619.2 1093.6 619.2 1093.6 653 1093.6 331.3 1093.6 492.2 1096.8 492.2 1096.8 759.1 1096.8 331.3 1096.8 625.9 1100 625.9 1100 759.1 1100 492.6 1100 613.9 1103.3 613.9 1103.3 723.7 1103.3 504.1 1104.1 400.9 1106.1 395.4 1106.7 340 1107.2 361.7 1107.2 273.7 1107.2 317.7 1110.1 317.7 1110.1 361.7 1110.1 272.8 1110.1 317.3 1113 317.3 1113 361.7 1113 257.4 1113 309.6 1115.9 309.6 1115.9 415 1115.9 257.4 1115.9 309.6 1118.8 309.6 1118.8 361.7 1118.8 229.1 1118.8 309.8 1121.7 309.8 1121.7 361.7 1121.7 258 1121.7 310.7 1124.6 310.7 1124.6 361.7 1124.6 259.6 1126.5 259.6 1126.5 106.5 1126.8 1192 1128.9 1164.1 1129.6 1066.3 1130.4 1164.1 1131.3 1069.6 1132.2 1165.2 1135.4 1179.3 1136.5 1103.3 1137.4 1179.3 1138.5 1105.4 1139.6 1179.3 1141.3 1180 1141.3 1085 1141.3 1132.5 1144.9 1132.5 1144.9 1180 1144.9 1085 1144.9 1132.5 1148.4 1132.5 1148.4 1180 1148.4 1085 1148.4 1132.5 1152 1132.5 1152 1180 1152 1085 1152 1132.5 1155.6 1132.5 1155.6 1180 1155.6 1085 1155.6 1132.5 1159.2 1132.5 1159.2 1180 1159.2 1085 1159.2 1132.5 1162.7 1132.5 1162.7 1180 1162.7 1085 1162.7 1132.5 1166.3 1132.5 1166.3 1180 1166.3 1085 1167 1187 1167 792.2 1169.8 927 1169.8 773 1169.8 904.7 1176.1 904.7 1176.1 939.1 1176.1 882.4 1181.1 937 1181.5 653 1181.5 560.7 1181.5 606.8 1184.5 606.8 1184.5 653 1184.5 513.9 1184.5 583.5 1187.4 583.5 1187.4 653 1187.4 511.9 1187.4 582.5 1190.4 582.5 1190.4 672.6 1190.4 479.1 1190.4 618.9 1193.3 618.9 1193.3 653 1193.3 584.8 1193.3 648.7 1196.3 648.7 1196.3 653 1196.3 644.3 1194.5 662 1194.5 868.3 1197 872.6 1197.6 900.9 1198 837.8 1198.9 911.7 1199.6 963 1202.2 967.4 1203.7 965.2 1204 950 1204.3 662 1206.7 653 1206.7 606.3 1206.7 629.7 1209.7 629.7 1209.7 655.2 1209.7 582.2 1209.7 618.7 1212.6 618.7 1212.6 657.4 1212.6 581.3 1212.6 619.3 1215.5 619.3 1215.5 762.4 1215.5 475.9 1215.5 619.1 1218.4 619.1 1218.4 1165.7 1218.4 290 1218.4 650.2 1221.3 650.2 1221.3 783.2 1221.3 517.2 1221.3 648.6 1224.3 648.6 1224.3 780 1224.3 470.4 1224.3 561.7 1227.2 561.7 1227.2 653 1227.2 470.4 1228.3 361.7 1228.3 270.4 1228.3 316.1 1231.5 316.1 1231.5 361.7 1231.5 269.1 1231.5 315.4 1234.8 315.4 1234.8 415 1234.8 235.7 1234.8 325.3 1238 325.3 1238 415 1238 235.7 1238 329.1 1241.3 329.1 1241.3 400.9 1241.3 257.4 1241.3 309.6 1244.6 309.6 1244.6 361.7 1244.6 257.4 1244.6 309.6 1247.8 309.6 1247.8 361.7 1247.8 257.4 1249.5 257.4 1249.5 106.5 1249.8 1192 1250 1180 1250 1085 1250 1132.5 1254 1132.5 1254 1180 1254 1085 1254 1132.5 1258 1132.5 1258 1180 1258 1085 1258 1132.5 1262 1132.5 1262 1180 1262 1085 1262 1132.5 1265.9 1132.5 1265.9 1180 1265.9 1085 1265.9 1132.5 1269.9 1132.5 1269.9 1180 1269.9 1085 1269.9 1132.5 1273.9 1132.5 1273.9 1180 1273.9 1085 1273.9 1132.5 1277.9 1132.5 1277.9 1180 1277.9 1085 1277.9 1132.5 1281.9 1132.5 1281.9 1180 1281.9 1085 1281.9 1132.5 1285.9 1132.5 1285.9 1180 1285.9 1085 1289.1 1182 1290 904.1 1290 772.6 1290 850.3 1293.5 850.3 1293.5 904.1 1293.5 796.5 1293.5 889.5 1296.7 889.5 1296.7 904.1 1296.7 874.8 1298.9 928.3 1302.2 674.8 1302.2 644.3 1302.2 659.6 1305.2 659.6 1305.2 674.8 1305.2 570.9 1305.2 617.2 1308.2 617.2 1308.2 653 1308.2 581.3 1308.2 617.2 1311.2 617.2 1311.2 653 1311.2 525.2 1311.2 615.5 1314.2 615.5 1314.2 653 1314.2 578 1314.2 615.5 1317.2 615.5 1317.2 653 1317.2 574.8 1317.2 648.7 1320.2 648.7 1320.2 653 1320.2 644.3 1317.8 662 1317.8 948 1321.4 952 1322 879.1 1322.6 955 1323 967.4 1325 970.7 1327.2 965.2 1328.4 950 1329.2 753 1332 753 1333 722.6 1333.3 653 1333.3 609.6 1333.3 631.3 1336.2 631.3 1336.2 653 1336.2 581.3 1336.2 617.2 1339.2 617.2 1339.2 653 1339.2 506.5 1339.2 579.8 1342.2 579.8 1342.2 776.5 1342.2 323.7 1342.2 639.8 1345.1 639.8 1345.1 776.5 1345.1 503.1 1345.1 640.3 1348.1 640.3 1348.1 776.5 1348.1 504.1 1348.1 578.6 1351.1 578.6 1351.1 653 1351.1 483.5 1351.5 361.7 1351.5 268.3 1351.5 315 1354.4 315 1354.4 361.7 1354.4 267.5 1354.4 314.6 1357.4 314.6 1357.4 361.7 1357.4 266.7 1357.4 314.2 1360.3 314.2 1360.3 361.7 1360.3 252.2 1360.3 307 1363.2 307 1363.2 400.9 1363.2 235.7 1363.2 330.2 1366.1 330.2 1366.1 400.9 1366.1 259.6 1366.1 310.7 1369 310.7 1369 361.7 1369 259.6 1369 310.7 1372 310.7 1372 361.7 1372 259.6 1373.5 259.6 1373.5 106.5 1373.8 1192 1374.1 1180 1374.1 1085 1374.1 1132.5 1377.9 1132.5 1377.9 1180 1377.9 1085 1377.9 1132.5 1381.7 1132.5 1381.7 1180 1381.7 1085 1381.7 1132.5 1385.4 1132.5 1385.4 1180 1385.4 1085 1385.4 1132.5 1389.2 1132.5 1389.2 1180 1389.2 1085 1389.2 1132.5 1393 1132.5 1393 1180 1393 1085 1393 1132.5 1396.7 1132.5 1396.7 1180 1396.7 1085 1396.7 1132.5 1400.5 1132.5 1400.5 1180 1400.5 1085 1400.5 1132.5 1404.3 1132.5 1404.3 1180 1404.3 1085 1404.3 1132.5 1408 1132.5 1408 1180 1408 1085 1410.2 1192 1410.2 106.5 1410.8 1192 1414.4 1187 1414.4 792.2 1417.4 929.1 1417.4 776.5 1417.4 905.3 1420.4 905.3 1420.4 928.3 1420.4 882.4 1425.2 653 1425.2 566.1 1425.2 609.6 1428.3 609.6 1428.3 670.4 1428.3 559.2 1428.3 606.1 1431.4 606.1 1431.4 653 1431.4 557.1 1431.4 605.1 1434.5 605.1 1434.5 653 1434.5 486.7 1434.5 613.2 1437.5 613.2 1437.5 653 1437.5 573.4 1437.5 613.2 1440.6 613.2 1440.6 653 1440.6 571.7 1440.6 648.7 1443.7 648.7 1443.7 653 1443.7 644.3 1442.2 662 1442.2 948 1445.3 952 1445.9 868.3 1446.5 955 1447.2 965.2 1449.8 967.4 1451.5 963 1452.1 950 1452.4 662 1454.6 653 1454.6 606.3 1454.6 629.7 1457.9 629.7 1457.9 655.2 1457.9 582.4 1457.9 618.8 1461.2 618.8 1461.2 657.3 1461.2 581.3 1461.2 619.3 1464.5 619.3 1464.5 780.2 1464.5 290 1464.5 641.9 1467.8 641.9 1467.8 780.2 1467.8 503.6 1467.8 623.7 1471.1 623.7 1471.1 733.5 1471.1 513.9 1472.8 472.6 1473.3 348.7 1476.3 342.2 1476.7 361.7 1476.7 268.3 1476.7 315 1480 315 1480 361.7 1480 266.2 1480 314 1483.3 314 1483.3 419.3 1483.3 235.7 1483.3 338.4 1486.7 338.4 1486.7 419.3 1486.7 257.4 1486.7 309.6 1490 309.6 1490 361.7 1490 257.4 1490 309.6 1493.3 309.6 1493.3 361.7 1493.3 257.4 1494.6 106.5 1494.9 1192 1497.6 1180 1497.6 1085 1497.6 1132.5 1501.4 1132.5 1501.4 1180 1501.4 1085 1501.4 1132.5 1505.2 1132.5 1505.2 1180 1505.2 1085 1505.2 1132.5 1509 1132.5 1509 1180 1509 1085 1509 1132.5 1512.8 1132.5 1512.8 1180 1512.8 1085 1512.8 1132.5 1516.6 1132.5 1516.6 1180 1516.6 1085 1516.6 1132.5 1520.4 1132.5 1520.4 1180 1520.4 1085 1523 1192 1523 106.5 1523.6 1192 1525.9 1180 1525.9 1085 1525.9 1132.5 1528.8 1132.5 1528.8 1180 1528.8 1085 1528.8 1132.5 1531.7 1132.5 1531.7 1180 1531.7 1085 1531.7 1132.5 1534.6 1132.5 1534.6 1180 1534.6 1085 1534.5 1187 1534.5 792.2 1538 911.7 1538 783.5 1538 890 1541.1 890 1541.1 911.7 1541.1 868.3 1541.1 891.1 1544.3 891.1 1544.3 911.7 1544.3 870.4 1546.5 932.6 1549.3 934.8 1549.8 653 1549.8 606.3 1549.8 629.7 1552.7 629.7 1552.7 653 1552.7 567.9 1552.7 610.5 1555.7 610.5 1555.7 653 1555.7 497.6 1555.7 575.3 1558.7 575.3 1558.7 684.6 1558.7 497.6 1558.7 614 1561.6 614 1561.6 653 1561.6 575 1561.6 648.7 1564.6 648.7 1564.6 653 1564.6 644.3 1562.2 662 1562.2 948 1565.7 952 1566.3 870.4 1566.9 955 1567.4 963 1570.4 967.4 1572 965.2 1572.3 950 1572.6 662 1575 653 1575 618.3 1575 635.7 1578.3 635.7 1578.3 653 1578.3 592.2 1578.3 622.6 1581.7 622.6 1581.7 653 1581.7 532.4 1581.7 592.7 1585 592.7 1585 705.2 1585 298.7 1585 502 1588.3 502 1588.3 770 1588.3 298.7 1588.3 642 1591.7 642 1591.7 770 1591.7 513.9 1591.7 583.5 1595 583.5 1595 653 1595 476.5 1595.4 372.6 1595.4 296.5 1595.4 334.6 1598.5 334.6 1598.5 372.6 1598.5 294.5 1598.5 342.2 1601.6 342.2 1601.6 372.6 1601.6 311.7 1601.6 342.2 1604.8 342.2 1604.8 372.6 1604.8 257.4 1604.8 315 1607.9 315 1607.9 415 1607.9 235.7 1607.9 309.6 1611 309.6 1611 361.7 1611 257.4 1611 309.6 1614.1 309.6 1614.1 361.7 1614.1 257.4 1614.1 309.6 1617.2 309.6 1617.2 361.7 1617.2 257.4 1618.5 257.4 1618.5 106.5 1618.8 1192 1619.3 1180 1619.3 1085 1619.3 1132.5 1623.2 1132.5 1623.2 1180 1623.2 1085 1623.2 1132.5 1627 1132.5 1627 1180 1627 1085 1628.3 1132.6 1629.1 1080.4 1630 1132.6 1630.9 1082.6 1632 1139.1 1633.5 1180 1633.5 1085 1633.5 1132.5 1637 1132.5 1637 1180 1637 1085 1637 1132.5 1640.6 1132.5 1640.6 1180 1640.6 1085 1640.6 1132.5 1644.2 1132.5 1644.2 1180 1644.2 1085 1644.2 1132.5 1647.8 1132.5 1647.8 1180 1647.8 1085 1647.8 1132.5 1651.3 1132.5 1651.3 1180 1651.3 1085 1651.3 1132.5 1654.9 1132.5 1654.9 1180 1654.9 1085 1654.9 1132.5 1658.5 1132.5 1658.5 1180 1658.5 1085 1658.5 1187 1658.5 796.5 1662 929.1 1662 787.4 1662 912.8 1665.4 912.8 1665.4 929.1 1665.4 896.5 1667.6 928.3 1669.3 835.7 1672 829.1 1672.4 648.7 1675.9 644.3 1677.6 650.9"/>
<path class="s" stroke="#ff0000" stroke-width="4.5" d="M203 651 204.2 668.6 205.3 638 206.5 629.1 207.7 637 208.8 628.2 210 665.6 211.1 653.6 212.3 652.2 213.4 632.6 214.6 664.8 215.7 644.6 216.9 641.1 218 653.9 219.2 624.6 220.6 655 220.6 930 221.8 923.4 223.3 935.7 224.8 929.1 226.3 926.2 227.8 933.2 229.3 929.8 231 930 231 660 232.2 644.4 233.3 655.6 234.5 652.1 235.7 660.5 236.8 644.1 238 639.3 239.1 667.4 240.3 637.1 241.4 657.4 242.6 660.5 243.7 655.5 244.9 652.2 246 659.5 247.2 649.3 248.3 637.7 249.5 654.1 250.6 659 252 655 252 448.7 256 442.7 256 379 257.3 387.5 258.8 384 260.3 384.2 261.8 382.2 263.3 385.5 264.8 379.1 266.3 384.5 267.8 384.9 269.3 385.2 270.8 380.2 273 106.5 273 1192 276 1192 276 106.5 277 116.3 278.3 109.6 279.6 115.2 280.9 108.1 282.2 116.9 284 110.5 284 1192 284 110.5 285 119.3 286.5 118.9 288 120.1 289.5 111.9 291 114.5 292.5 114.3 294 122.7 295.5 124.4 297 112.9 298.5 113.8 300 115.2 301.5 115.8 303 120.2 304.5 122.3 306 118 307.5 114.7 309 121.5 310.5 121.3 312.4 106.5 312.4 1192 313.9 933.3 315.4 941.1 316.9 935.8 318.4 932.3 319.9 934.4 321.4 935.5 323 932 323 672 325.6 666 326.8 637.5 327.9 657.8 329.1 658.3 330.2 668.4 331.4 626.1 332.5 640.5 333.7 625.5 334.8 638.8 336 636.7 337.1 665.8 338.3 645.7 340.2 655 340.2 930 341.4 921.2 342.9 940.1 344.4 943.8 345.9 930.1 347.4 930.6 348.9 920.2 351.5 930 351.5 660 352.7 638.9 353.8 643.4 355 633.5 356.1 667.8 357.3 636.8 358.4 663.4 359.6 655.5 360.7 669.4 361.9 650.9 363 645.2 364.2 658.7 365.3 659.9 366.5 658.9 367.6 642.3 368.8 624.3 369.9 643.8 371.1 655.4 373.3 655 373.3 505 376.5 499 376.5 367 377.8 389 379.3 378.4 380.8 395.9 382.3 380.6 383.8 392.3 385.3 376 386.8 393 388.3 377.8 389.8 394.8 391.3 383.6 393.6 106.5 393.6 1192 395.7 1192 395.7 106.5 397.8 106.5 397.8 1192 399.9 1192 399.9 106.5 402 106.5 402 1192 402.5 1192 402.5 106.5 403 118.1 404.3 109.5 405.6 116.6 406.9 108.9 408.2 117.8 409.5 106.8 411.2 110.5 411.2 1192 411.2 110.5 412.5 117.3 413.8 109.8 415.1 117.7 417.2 106.5 417.2 1192 419.3 1192 419.3 106.5 421.4 106.5 421.4 1192 423.5 1192 423.5 106.5 425.6 106.5 425.6 1192 427.7 1192 427.7 106.5 429.8 106.5 429.8 1192 431.9 1192 431.9 106.5 434 106.5 434 1192 435.5 927.5 437 920.4 438.5 912.6 440 928.5 441.5 916.6 444 921 444 733.5 447 727.5 448.2 658.4 449.3 647.1 450.5 662.5 451.6 665.1 452.8 661.3 453.9 640.1 455.1 663.4 456.2 645.8 457.4 633.7 458.5 654.2 460.7 655 460.7 930 461.9 942.3 463.4 929.3 464.9 940.7 466.4 939.5 467.9 923.5 469.4 924.5 471 930 471 660 472.2 644.2 473.3 652.4 474.5 670.4 475.6 645.9 476.8 652.3 477.9 647.8 479.1 650 480.2 628.4 481.4 632 482.5 640.8 483.7 656.3 484.8 645.1 486 651.6 487.1 639 488.3 643 489.4 657.6 490.6 651.7 491.7 661.5 492.9 653.2 494 650.3 495.2 648.7 496.5 655 496.5 367 497.8 381.3 499.3 376.5 500.8 383.3 502.3 375.9 503.8 385.5 505.3 370.3 506.8 382 508.3 376.5 509.8 384.6 511.3 369.2 512.8 378.1 514.3 372 515.8 377.7 517 106.5 517 1192 519.3 1192 519.3 106.5 521.6 106.5 521.6 1192 523.9 1192 523.9 106.5 526.2 106.5 526.2 1192 528.6 1192 528.6 106.5 530.9 106.5 530.9 1192 533.2 1192 533.2 106.5 535.5 106.5 535.5 1192 537.8 1192 537.8 106.5 540.1 106.5 540.1 1192 542.4 1192 542.4 106.5 544.8 106.5 544.8 1192 547.1 1192 547.1 106.5 549.4 106.5 549.4 1192 551.7 1192 551.7 106.5 554 106.5 554 1192 555.5 908.9 557 906.2 558.5 915.7 560 917.5 561.5 919.4 563 907.5 564.5 916.5 566 915.6 567.5 907.3 569 913 569 700 570.2 660.7 571.4 642.1 572.5 647.2 573.6 663.7 574.8 640.5 575.9 650.4 577.1 641.5 578.2 629.5 579.4 627.3 581 655 581 930 582.2 934.2 583.7 931.3 585.2 919.7 586.7 943.6 588.2 938.5 589.7 943.3 592 930 592 660 593.2 638.9 594.4 637.1 595.5 667 596.6 661.5 597.8 670.4 598.9 652 600.1 630.9 601.2 633.4 602.4 653.8 603.5 638.3 604.7 637.9 605.8 648.7 607 651.5 608.1 667.7 609.3 665.1 610.4 637.4 611.6 644.7 612.7 657.3 613.9 666.4 615 636.5 617 655 617 353 618.3 369.1 619.8 361.6 621.3 374 622.8 356.7 624.3 373.3 625.8 363.4 627.3 370 628.8 362.4 630.3 372.9 631.8 359.5 633.3 376.5 634.8 358.5 636.3 373.6 637.5 106.5 637.5 1192 639.6 1192 639.6 106.5 641.8 106.5 641.8 1192 643.9 1192 643.9 106.5 646 106.5 646 1192 647 1189.2 648.4 1172.1 649.8 1190.6 651.2 1173.2 652.6 1189.2 654 1174.5 655.4 1190.4 658 1192 658 106.5 660.4 106.5 660.4 1192 662.9 1192 662.9 106.5 665.3 106.5 665.3 1192 667.7 1192 667.7 106.5 670.1 106.5 670.1 1192 672.6 1192 672.6 106.5 675 106.5 675 1192 676.5 909.1 678 899.7 679.5 902.2 681 900.3 682.5 921.7 684 906.2 685.5 903.2 687.6 914 687.6 700 688.8 638.4 690 660.4 691.1 643.9 692.2 644.2 693.4 640.4 694.5 643.4 695.7 663.2 696.8 642.8 698 644.7 699.1 636 700.3 649.3 701.4 641.6 702.6 636.1 703.7 638.5 705 655 705 930 706.2 919.1 707.7 918.6 709.2 925.9 710.7 924.1 713 930 713 686.7 716.5 680.7 717.7 652.4 718.9 657 720 656 721.1 646.9 722.3 669.1 723.4 632.4 724.6 661 725.7 656.5 726.9 639.9 728 650.1 729.2 658.5 730.3 652.4 731.5 655.1 732.6 625.3 733.8 669.9 734.9 651.6 736.1 653.5 737.5 655 737.5 349 738.8 377.4 740.3 351 741.8 380.2 743.3 357.7 744.8 377.5 746.3 355.8 747.8 378.9 749.3 351.6 750.8 379.6 752.3 353.3 753.8 373.7 755.3 353.4 756.8 379.6 758.5 106.5 758.5 1192 760 1191.2 761.4 1173.8 762.8 1188.1 765.5 1188 765.5 106.5 765.5 1188 767 1190 768.4 1176.3 769.8 1190.1 771.2 1174.2 772.6 1188.9 774 1174.7 775.4 1189.4 776.8 1178.5 778.2 1191.4 779.6 1177.2 781 1189 782 1192 782 106.5 784.6 106.5 784.6 1192 787.2 1192 787.2 106.5 789.8 106.5 789.8 1192 792.4 1192 792.4 106.5 795 106.5 795 1192 798.7 1192 798.7 915 800.2 910.3 801.7 916.6 803.2 903.3 804.7 904.5 806.2 909.5 807.7 919.1 808.9 915 808.9 700 810.1 655.4 811.2 644.1 812.4 649 813.5 639.3 814.7 641.6 815.8 628.6 817 659 818.1 648.6 819.3 641.9 820.4 641.9 821.6 640 822.7 669.7 823.9 650.2 825.5 655 825.5 930 826.7 936.3 828.2 924 829.7 941.3 831.2 930.6 832.7 918.6 834.2 918.1 835.7 930.8 837 930 837 660 838.2 648.6 839.4 639.9 840.5 644.9 841.6 636 842.8 670.5 843.9 656 845.1 644.1 846.2 647 847.4 652.5 848.5 648 849.7 669.8 850.8 644 852 643 853.1 650.3 854.3 646.5 855.4 660.8 857.7 655 857.7 472.6 861.3 466.6 861.3 352 862.6 379.7 864.1 361.2 865.6 382.5 867.1 357.9 868.6 380.5 870.1 353.4 871.6 380.6 873.1 357.1 874.6 380.8 876.1 358.8 877.6 376.6 878.7 106.5 878.7 1192 880 1191.8 881.4 1172.5 882.8 1191.5 884.2 1175.7 885.6 1190.6 887 1176.9 888.4 1189 889.8 1172.2 891.2 1191 892.5 1192 892.5 106.5 895.3 106.5 895.3 1192 898.2 1192 898.2 106.5 901 106.5 901 1192 902 1189.4 903.4 1176.9 904.8 1189.8 906.5 1192 906.5 106.5 908.8 106.5 908.8 1192 911 1192 911 106.5 913.3 106.5 913.3 1192 915.5 1192 915.5 106.5 917.8 106.5 917.8 1192 921.8 1192 921.8 910 923.3 906.2 924.8 898 926.3 897.8 927.8 899.5 929.3 924.6 930.8 909.9 932.7 910 932.7 700 933.9 642.2 935.1 663.9 936.2 639.9 937.4 638.5 938.5 638.6 939.6 643.2 940.8 660.8 941.9 647.6 943.1 650.7 944.2 626.8 945.4 667.5 946.5 653.6 947.7 642 949.5 655 949.5 930 950.7 924.5 952.2 928.4 953.7 929.6 955.2 942.8 956.7 940.1 958.2 940.7 959.7 918.6 961.3 930 961.3 660 962.5 636.9 963.6 661.1 964.8 627.9 965.9 662 967.1 660 968.2 665.1 969.4 650.6 970.5 662.4 971.7 654.1 972.8 648.8 974 637.1 975.1 642.5 976.3 654.1 977.4 639.6 978.6 653.8 979.7 629.2 981.7 655 981.7 555 985 549 985 357.4 986.3 382.2 987.8 360.5 989.3 379 990.8 362.4 992.3 377.1 993.8 359.7 995.3 381.1 996.8 365.6 998.3 382.8 999.8 365 1001.3 381.3 1003 106.5 1003 1192 1004 1191.1 1005.4 1177.3 1006.8 1188.2 1008.2 1174.1 1009.6 1190.8 1011 1178.8 1012.5 1192 1012.5 106.5 1014.8 106.5 1014.8 1192 1017.1 1192 1017.1 106.5 1019.4 106.5 1019.4 1192 1021.7 1192 1021.7 106.5 1024 106.5 1024 1192 1026.3 1192 1026.3 106.5 1028.6 106.5 1028.6 1192 1030.9 1192 1030.9 106.5 1033.2 106.5 1033.2 1192 1035.5 1192 1035.5 106.5 1036 118.7 1037.3 109 1038.6 118.4 1039.9 107.2 1042 106.5 1042 1192 1042.5 1192 1042.5 106.5 1043 106.5 1043 1192 1044.5 924 1046 931 1047.5 912.1 1049 906.9 1050.5 915.1 1052.2 919.5 1052.2 720.4 1055.8 714.4 1057 647.8 1058.2 641.5 1059.3 656.7 1060.5 641.7 1062.6 655 1062.6 611 1068.6 613 1068.6 655 1069.7 628.7 1070.8 646.4 1072 641.4 1073.2 655 1073.2 930 1074.4 941.3 1075.9 918.8 1077.4 928.7 1078.9 939.1 1080.4 937.9 1081.9 919.1 1083.4 918.9 1084.8 930 1084.8 660 1086 637.8 1087.2 643.2 1088.3 661.2 1089.5 643.6 1090.6 653.3 1091.8 656.1 1092.9 631.6 1094.1 661.7 1095.2 626.3 1096.4 649.3 1097.5 662.7 1098.7 643 1099.8 649.8 1101 641.1 1102.1 656.7 1103.3 657.6 1104.4 645.2 1105.6 655 1105.6 520 1109.3 514 1109.3 361.7 1110.6 377.3 1112.1 366 1113.6 374.7 1115.1 360.8 1116.6 380.8 1118.1 361.2 1119.6 374.6 1121.1 359.3 1122.6 379 1124.1 361.9 1126.5 106.5 1126.5 1192 1127.5 1188.1 1128.9 1172.8 1130.3 1188 1131.7 1177.1 1134 1188 1134 106.5 1134 1188 1135 1191.7 1136.4 1178.3 1137.8 1190 1139.2 1174 1141 1188 1141 106.5 1141 1188 1142 1190.2 1143.4 1177.4 1144.8 1190.3 1146 1192 1146 106.5 1148.3 106.5 1148.3 1192 1150.7 1192 1150.7 106.5 1153 106.5 1153 1192 1155.3 1192 1155.3 106.5 1157.7 106.5 1157.7 1192 1160 1192 1160 106.5 1162.3 106.5 1162.3 1192 1164.7 1192 1164.7 106.5 1167 106.5 1167 1192 1168.5 923.6 1170 925.6 1171.5 928.4 1173 932.2 1174.5 925.2 1176 904.6 1177.5 932 1179.8 919 1179.8 700 1181 644.2 1182.2 646.4 1183.3 641.6 1184.5 670.2 1185.6 652.2 1186.8 647.1 1187.9 650.2 1189.1 658.6 1190.2 667.3 1191.4 658.9 1192.5 626.9 1194.5 655 1194.5 868 1197 873 1197 930 1198.2 921.1 1199.7 922.9 1201.2 943.3 1202.7 933.2 1204.3 930 1204.3 660 1205.5 662 1206.7 660.3 1207.8 643.3 1209 668.2 1210.1 653.4 1211.3 665.4 1212.4 643.1 1213.6 654.2 1214.7 636.3 1215.9 655 1217 644.7 1218.2 658.3 1219.3 666.8 1220.5 651.4 1221.6 668.9 1222.8 647.5 1223.9 644.6 1225.1 644.7 1226.2 646 1227.4 660.2 1228.5 646.2 1229.8 655 1229.8 353 1231.1 388.6 1232.6 355.8 1234.1 382.1 1235.6 362.1 1237.1 385.8 1238.6 361.4 1240.1 385.7 1241.6 361.9 1243.1 386.1 1244.6 355.5 1246.1 382.1 1247.6 359 1249.5 106.5 1249.5 1192 1251.8 1192 1251.8 106.5 1254.1 106.5 1254.1 1192 1256.3 1192 1256.3 106.5 1258.6 106.5 1258.6 1192 1260.9 1192 1260.9 106.5 1263.2 106.5 1263.2 1192 1265.5 1192 1265.5 106.5 1267.8 106.5 1267.8 1192 1270 1192 1270 106.5 1272.3 106.5 1272.3 1192 1274.6 1192 1274.6 106.5 1276.9 106.5 1276.9 1192 1279.2 1192 1279.2 106.5 1281.4 106.5 1281.4 1192 1283.7 1192 1283.7 106.5 1286 106.5 1286 1192 1290 1192 1290 915.5 1291.5 918.7 1293 924.9 1294.5 906 1296 918.3 1297.5 912.5 1299 915.6 1300.5 915.5 1300.5 700 1301.7 640.1 1302.9 650.6 1304 639 1305.2 658.5 1306.3 670.6 1307.5 663.3 1308.6 637.5 1309.8 646.9 1310.9 653.4 1312.1 640.5 1313.2 642.2 1314.4 659.7 1315.5 641.1 1317.8 655 1317.8 930 1319 928.4 1320.5 931.5 1322 928 1323.5 921.2 1325 924.4 1326.5 936.8 1328.7 930 1328.7 709.6 1332.6 703.6 1333.8 629.6 1335 632.4 1336.1 639.3 1337.3 651.4 1338.4 644.6 1339.6 652.3 1340.7 654.4 1341.9 630.2 1343 649.7 1344.2 657.4 1345.3 667.3 1346.5 667 1347.6 638.6 1348.8 630.4 1349.9 638.3 1351.1 657.8 1352.2 637.5 1353.7 655 1353.7 359.6 1355 383.4 1356.5 369.6 1358 381.2 1359.5 368.7 1361 389 1362.5 367.6 1364 387.3 1365.5 362.7 1367 388.8 1368.5 365.4 1370 388.6 1371.5 369.2 1373.5 106.5 1373.5 1192 1375.8 1192 1375.8 106.5 1378 106.5 1378 1192 1380.3 1192 1380.3 106.5 1382.5 106.5 1382.5 1192 1384.8 1192 1384.8 106.5 1387.1 106.5 1387.1 1192 1389.3 1192 1389.3 106.5 1391.6 106.5 1391.6 1192 1393.8 1192 1393.8 106.5 1396.1 106.5 1396.1 1192 1398.4 1192 1398.4 106.5 1400.6 106.5 1400.6 1192 1402.9 1192 1402.9 106.5 1405.1 106.5 1405.1 1192 1407.4 1192 1407.4 106.5 1408.5 110.5 1409.8 107.4 1411.1 111.9 1413.3 106.5 1413.3 1192 1413.8 1192 1413.8 106.5 1414.4 106.5 1414.4 1192 1415.9 906.5 1417.4 917.3 1418.9 932.7 1420.4 910 1421.9 938.1 1424.2 923 1424.2 700 1425.4 643.7 1426.6 640 1427.7 661.8 1428.9 643.4 1430 625.8 1431.2 640.5 1432.3 655 1433.5 640.7 1434.6 639.2 1435.8 653.8 1436.9 660.4 1438.1 652.2 1439.2 638.9 1440.4 653.6 1442.2 655 1442.2 930 1443.4 938.7 1444.9 924.9 1446.4 943.8 1447.9 933 1449.4 927.4 1450.9 937.9 1452.4 930 1452.4 660 1453.6 669.2 1454.8 637.4 1455.9 643.1 1457.1 663.6 1458.2 654.6 1459.4 625.5 1460.5 653.2 1461.7 650.4 1462.8 639.7 1464 624 1465.1 666.5 1466.3 642.3 1467.4 652.5 1468.6 653.5 1469.7 639.8 1470.9 664.7 1472 653.9 1473.5 655 1473.5 472.6 1477.6 466.6 1477.6 359.6 1478.9 393 1480.4 364.6 1481.9 388.4 1483.4 361.1 1484.9 391.8 1486.4 366.1 1487.9 389.2 1489.4 366.8 1490.9 390 1492.4 369.4 1493.9 392.6 1495.4 363.2 1496.9 394.1 1498.2 106.5 1498.2 1192 1500.5 1192 1500.5 106.5 1502.9 106.5 1502.9 1192 1505.2 1192 1505.2 106.5 1507.6 106.5 1507.6 1192 1509.9 1192 1509.9 106.5 1512.3 106.5 1512.3 1192 1514.6 1192 1514.6 106.5 1517 106.5 1517 1192 1519.3 1192 1519.3 106.5 1520.5 110.3 1521.8 107 1523.1 110.9 1524.4 106.4 1525.7 110.3 1527 106.5 1527 1192 1528.9 1192 1528.9 106.5 1530.8 106.5 1530.8 1192 1532.6 1192 1532.6 106.5 1534.5 106.5 1534.5 1192 1536 927.3 1537.5 907.3 1539 921.3 1540.5 931.5 1542 910.7 1543.5 912.2 1545 922.8 1546.5 920.2 1548 920 1548 700 1549.2 654 1550.4 640.9 1551.5 632.9 1552.7 657.9 1553.8 636.2 1555 656.9 1556.1 656.8 1557.3 665.6 1558.4 637.1 1559.6 657 1560.7 659.7 1562.2 655 1562.2 930 1563.4 924.9 1564.9 932.4 1566.4 929.3 1567.9 938.5 1569.4 931.6 1570.9 924.9 1572.6 930 1572.6 660 1573.8 654 1575 642.1 1576.1 636.4 1577.3 642.6 1578.4 662.5 1579.6 645.2 1580.7 645.2 1581.9 661.4 1583 655.4 1584.2 663.4 1585.3 659.5 1586.5 660 1587.6 656.3 1588.8 644.6 1589.9 633.1 1591.1 625.1 1592.2 662 1593.4 624.4 1594.5 655.4 1595.7 655.5 1597.6 655 1597.6 384.6 1598.9 386.3 1600.4 400.5 1601.9 387.8 1603.4 393.9 1604.9 382.1 1606.4 390.3 1607.9 374.3 1609.4 390.2 1610.9 378.6 1612.4 390.7 1613.9 361.5 1615.4 373.2 1616.9 361.6 1618.5 106.5 1618.5 1192 1620.9 1192 1620.9 106.5 1623.4 106.5 1623.4 1192 1625.8 1192 1625.8 106.5 1627 110.3 1628.3 107.5 1629.6 111.7 1630.9 107.1 1632.2 111.7 1633.5 106.5 1633.5 1192 1636 1192 1636 106.5 1638.5 106.5 1638.5 1192 1641 1192 1641 106.5 1643.5 106.5 1643.5 1192 1646 1192 1646 106.5 1648.5 106.5 1648.5 1192 1651 1192 1651 106.5 1653.5 106.5 1653.5 1192 1656 1192 1656 106.5 1658.5 106.5 1658.5 1192 1660 936.4 1661.5 927.5 1663 922.6 1664.5 922.5 1666 939.7 1667.5 925.3 1668.7 933 1668.7 835.7 1671.5 829 1671.5 648 1674 644 1676 649"/>
<g stroke="#000" stroke-width="4.4" fill="none" stroke-linecap="butt">
<rect x="203" y="46.5" width="1536.5" height="1209.5"/>
<line x1="203" y1="195" x2="219" y2="195"/><line x1="1739.5" y1="195" x2="1723.5" y2="195"/>
<line x1="203" y1="347" x2="219" y2="347"/><line x1="1739.5" y1="347" x2="1723.5" y2="347"/>
<line x1="203" y1="498.8" x2="219" y2="498.8"/><line x1="1739.5" y1="498.8" x2="1723.5" y2="498.8"/>
<line x1="203" y1="651" x2="219" y2="651"/><line x1="1739.5" y1="651" x2="1723.5" y2="651"/>
<line x1="203" y1="799" x2="219" y2="799"/><line x1="1739.5" y1="799" x2="1723.5" y2="799"/>
<line x1="203" y1="951.2" x2="219" y2="951.2"/><line x1="1739.5" y1="951.2" x2="1723.5" y2="951.2"/>
<line x1="203" y1="1103.6" x2="219" y2="1103.6"/><line x1="1739.5" y1="1103.6" x2="1723.5" y2="1103.6"/>
<line x1="712.5" y1="46.5" x2="712.5" y2="62.5"/><line x1="712.5" y1="1256" x2="712.5" y2="1240"/>
<line x1="1225.5" y1="46.5" x2="1225.5" y2="62.5"/><line x1="1225.5" y1="1256" x2="1225.5" y2="1240"/>
</g>
<text class="tick" x="190" y="63.3" text-anchor="end">200</text>
<text class="tick" x="190" y="211.8" text-anchor="end">150</text>
<text class="tick" x="190" y="363.8" text-anchor="end">100</text>
<text class="tick" x="190" y="515.6" text-anchor="end">50</text>
<text class="tick" x="190" y="667.8" text-anchor="end">0</text>
<text class="tick" x="190" y="815.8" text-anchor="end">-50</text>
<text class="tick" x="190" y="968.0" text-anchor="end">-100</text>
<text class="tick" x="190" y="1120.3999999999999" text-anchor="end">-150</text>
<text class="tick" x="190" y="1272.8" text-anchor="end">-200</text>
<text class="tick" x="205" y="1311.8" text-anchor="middle">0</text>
<text class="tick" x="714.5" y="1311.8" text-anchor="middle">500</text>
<text class="tick" x="1227.5" y="1311.8" text-anchor="middle">1000</text>
<text class="tick" x="1741.5" y="1311.8" text-anchor="middle">1500</text>
<text class="lab" x="965.5" y="1383" text-anchor="middle" textLength="187" lengthAdjust="spacing">Time(s)</text>
<text class="lab" transform="translate(63.8,654.5) rotate(-90)" text-anchor="middle" textLength="279" lengthAdjust="spacing">Angle(deg)</text>
<rect x="1113" y="72" width="609" height="213.5" fill="#fff" stroke="#000" stroke-width="4.6"/>
<line x1="1141.3" y1="110" x2="1282.7" y2="110" stroke="#00ff00" stroke-width="4.6" stroke-linecap="round"/>
<text class="leg" x="1296" y="131.3" textLength="403" lengthAdjust="spacing">Gyroscope Heading</text>
<line x1="1141.3" y1="177" x2="1282.7" y2="177" stroke="#0000ff" stroke-width="4.6" stroke-linecap="round"/>
<text class="leg" x="1296" y="197.6" textLength="368.5" lengthAdjust="spacing">Magnetic Heading</text>
<line x1="1141.3" y1="244.5" x2="1282.7" y2="244.5" stroke="#ff0000" stroke-width="4.6" stroke-linecap="round"/>
<text class="leg" x="1296" y="266.1" textLength="383" lengthAdjust="spacing">Odometry Heading</text>
</svg></body></html>
